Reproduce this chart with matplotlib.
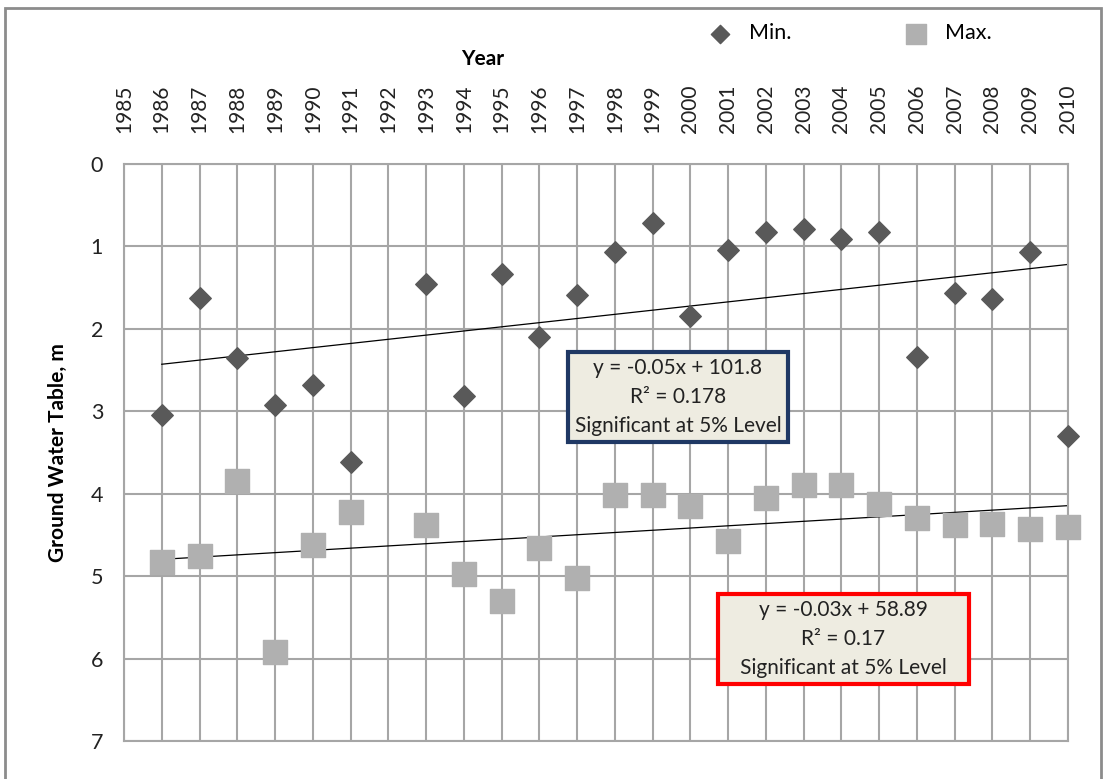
import numpy as np
import matplotlib.pyplot as plt
from matplotlib.patches import Rectangle

plt.rcParams['font.family'] = ['Lato', 'DejaVu Sans']

# years and ground water table depths (m)
years = [1986, 1987, 1988, 1989, 1990, 1991, 1993, 1994, 1995, 1996, 1997, 1998,
         1999, 2000, 2001, 2002, 2003, 2004, 2005, 2006, 2007, 2008, 2009, 2010]
min_depth = [3.05, 1.62, 2.35, 2.92, 2.68, 3.62, 1.46, 2.82, 1.33, 2.10, 1.59, 1.07,
             0.72, 1.85, 1.04, 0.82, 0.79, 0.91, 0.82, 2.34, 1.56, 1.64, 1.07, 3.30]
max_depth = [4.83, 4.75, 3.85, 5.92, 4.62, 4.22, 4.38, 4.97, 5.30, 4.66, 5.02, 4.02,
             4.02, 4.15, 4.57, 4.05, 3.90, 3.90, 4.12, 4.30, 4.38, 4.37, 4.43, 4.40]
tick_years = list(range(1985, 2011))
min_label = "y = -0.05x + 101.8\nR² = 0.178\nSignificant at 5% Level"
max_label = "y = -0.03x + 58.89\nR² = 0.17\n   Significant at 5% Level   "

fig = plt.figure(figsize=(11.03, 7.79), dpi=100)
ax = fig.add_axes([124 / 1103, 1 - 741 / 779, 944 / 1103, 577 / 779])

grid_col = '#a6a6a6'
ax.scatter(years, min_depth, marker='D', s=120, color='#595959', zorder=3,
           label='Min.', clip_on=False)
ax.scatter(years, max_depth, marker='s', s=280, color='#b0b0b0', zorder=3,
           label='Max.', clip_on=False)

# linear trend lines
x = np.array(years)
for vals in (min_depth, max_depth):
    k, b = np.polyfit(x, vals, 1)
    xs = np.array([1986, 2010])
    ax.plot(xs, k * xs + b, color='black', lw=0.9, zorder=2)

ax.set_xlim(1985, 2010)
ax.set_ylim(7, 0)
ax.set_xticks(tick_years)
ax.set_xticklabels([str(t) for t in tick_years], rotation=90, fontsize=15, color='#222222')
ax.set_yticks(range(0, 8))
ax.tick_params(axis='y', labelsize=15.5, length=0, pad=15, colors='#222222')
ax.tick_params(axis='x', top=True, bottom=False, labeltop=True, labelbottom=False,
               length=0, pad=22)
ax.grid(True, color=grid_col, lw=1.5)
ax.set_axisbelow(True)
for sp in ax.spines.values():
    sp.set_color(grid_col)
    sp.set_linewidth(1.5)

ax.set_xlabel('Year', fontsize=15, fontweight='bold', labelpad=14)
ax.xaxis.set_label_position('top')
ax.xaxis.label.set_x(0.38)
ax.set_ylabel('Ground Water Table, m', fontsize=15, fontweight='bold', labelpad=16)

# equation boxes
ax.text(1999.67, 2.83, min_label, ha='center', va='center', fontsize=15,
        linespacing=1.55, color='#222222', zorder=5,
        bbox=dict(boxstyle='square,pad=0.3', fc='#eeece1', ec='#1f3864', lw=3))
ax.text(2004.05, 5.76, max_label, ha='center', va='center', fontsize=15,
        linespacing=1.55, color='#222222', zorder=5,
        bbox=dict(boxstyle='square,pad=0.3', fc='#eeece1', ec='#ff0000', lw=3))

fig.legend(loc='upper left', bbox_to_anchor=(679 / 1103, 1 - 4 / 779), ncol=2,
           frameon=False, fontsize=15.5, columnspacing=4.8, handletextpad=0.35,
           markerscale=0.85)

# outer chart border
fig.patches.append(Rectangle((5 / 1103, -0.05), 1096 / 1103, 1.05 - 8 / 779,
                             transform=fig.transFigure, fill=False,
                             ec='#8c8c8c', lw=2))

fig.savefig('out.png', dpi=100)
